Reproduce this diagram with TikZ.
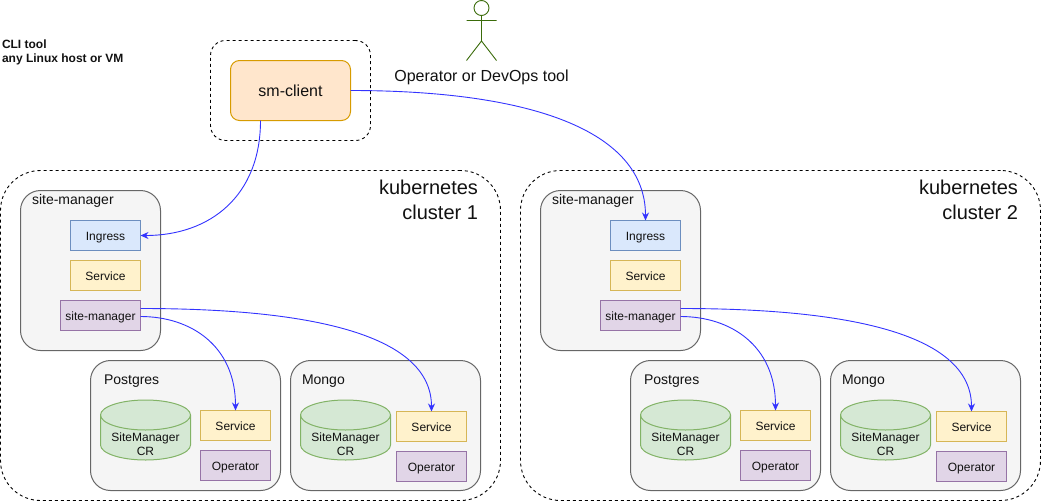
\documentclass[tikz,border=0pt]{standalone}
\usepackage{fontspec}
\setmainfont{Liberation Sans}
\usetikzlibrary{arrows.meta,calc}
\definecolor{bluef}{HTML}{DAE8FC}\definecolor{blued}{HTML}{6C8EBF}
\definecolor{yelf}{HTML}{FFF2CC}\definecolor{yeld}{HTML}{D6B656}
\definecolor{purf}{HTML}{E1D5E7}\definecolor{purd}{HTML}{9673A6}
\definecolor{grnf}{HTML}{D5E8D4}\definecolor{grnd}{HTML}{82B366}
\definecolor{orgf}{HTML}{FFE6CC}\definecolor{orgd}{HTML}{D79B00}
\definecolor{grayf}{HTML}{F5F5F5}\definecolor{grayd}{HTML}{666666}
\definecolor{actor}{HTML}{3A6B0A}\definecolor{conn}{HTML}{3333FF}
\definecolor{txt}{HTML}{111111}
\tikzset{
  every node/.style={text=txt,font=\fontsize{12}{14}\selectfont,inner sep=0pt,outer sep=0pt},
  box/.style={draw,line width=1pt,minimum height=30pt,anchor=north west,align=center,text height=10.5pt,text depth=0pt},
  wbox/.style={box,minimum width=70pt},
  ingressbox/.style={wbox,fill=bluef,draw=blued},
  servicebox/.style={wbox,fill=yelf,draw=yeld},
  opbox/.style={wbox,fill=purf,draw=purd},
  smbox/.style={box,minimum width=80pt,fill=purf,draw=purd},
  cluster/.style={draw=black,line width=0.9pt,dash pattern=on 3pt off 3pt,rounded corners=40pt,minimum width=500pt,minimum height=330pt,anchor=north west},
  group/.style={draw=grayd,fill=grayf,line width=1pt,anchor=north west,rounded corners=20pt},
  lbl/.style={font=\fontsize{14}{16}\selectfont,anchor=west},
  kube/.style={font=\fontsize{20}{25}\selectfont,align=right,anchor=north east},
  cyl/.style={draw=grnd,fill=grnf,line width=1pt},
  crtext/.style={font=\fontsize{12}{14}\selectfont,align=center},
  link/.style={draw=conn,line width=0.9pt,-{Stealth[length=8pt,width=7pt]}},
}
\newcommand{\crcyl}[2]{%
  \draw[cyl] (#1,415) arc[start angle=180,end angle=360,x radius=45,y radius=15] -- (#1+90,445)
    arc[start angle=0,end angle=180,x radius=45,y radius=15] -- cycle;
  \draw[cyl,fill=none] (#1,415) arc[start angle=180,end angle=0,x radius=45,y radius=15];
  \node[crtext] (#2) at (#1+45,444) {SiteManager\\CR};
}
\begin{document}
\begin{tikzpicture}[x=1pt,y=-1pt]
\useasboundingbox (0,0) rectangle (1041,501);
% top
\node[draw=black,dash pattern=on 3pt off 3pt,line width=0.9pt,rounded corners=15pt,minimum width=160pt,minimum height=100pt,anchor=north west] (clientouter) at (210.5,40.5) {};
\node[draw=orgd,fill=orgf,line width=1pt,rounded corners=9pt,minimum width=120pt,minimum height=60pt,anchor=north west,font=\fontsize{16}{18}\selectfont] (client) at (230.5,60.5) {sm-client};
\node[font=\bfseries\fontsize{12}{14.5}\selectfont,anchor=north west,align=left] (cli) at (2,39.5) {CLI tool\\any Linux host or VM};
% actor
\node[draw=actor,circle,line width=0.9pt,minimum size=15pt] (head) at (481.5,8) {};
\coordinate (neck) at (481.5,41);
\coordinate (armL) at (466.5,20.5);
\coordinate (armR) at (496.5,20.5);
\coordinate (legL) at (466.5,60.5);
\coordinate (legR) at (496.5,60.5);
\draw[actor,line width=0.9pt] (head.south) -- (neck) (armL) -- (armR) (legL) -- (neck) -- (legR);
\node[font=\fontsize{16}{18}\selectfont] (actorlabel) at (481.5,77) {Operator or DevOps tool};
% cluster 1
\node[cluster] (c1) at (0.5,170.5) {};
\node[kube] (k1) at (478,180.5) {kubernetes\\cluster 1};
\node[group,minimum width=140pt,minimum height=160pt] (sg1) at (20.5,190.5) {};
\node[lbl] (sl1) at (32,201) {site-manager};
\node[ingressbox] (ing1) at (70.5,220.5) {Ingress};
\node[servicebox] (svc1) at (70.5,260.5) {Service};
\node[smbox] (sm1) at (60.5,300.5) {site-manager};
\node[group,minimum width=190pt,minimum height=130pt] (pg1) at (90.5,360.5) {};
\node[lbl] (pl1) at (104,381) {Postgres};
\crcyl{100.5}{pcr1}
\node[servicebox] (psvc1) at (200.5,410.5) {Service};
\node[opbox] (pop1) at (200.5,450.5) {Operator};
\node[group,minimum width=190pt,minimum height=130pt] (mg1) at (290.5,360.5) {};
\node[lbl] (ml1) at (302,381) {Mongo};
\crcyl{300.5}{mcr1}
\node[servicebox] (msvc1) at (396.5,411.5) {Service};
\node[opbox] (mop1) at (396.5,451.5) {Operator};
% cluster 2
\node[cluster,minimum width=520pt] (c2) at (520.5,170.5) {};
\node[kube] (k2) at (1018,180.5) {kubernetes\\cluster 2};
\node[group,minimum width=160pt,minimum height=160pt] (sg2) at (540.5,190.5) {};
\node[lbl] (sl2) at (552,201) {site-manager};
\node[ingressbox] (ing2) at (610.5,220.5) {Ingress};
\node[servicebox] (svc2) at (610.5,260.5) {Service};
\node[smbox] (sm2) at (600.5,300.5) {site-manager};
\node[group,minimum width=190pt,minimum height=130pt] (pg2) at (630.5,360.5) {};
\node[lbl] (pl2) at (644,381) {Postgres};
\crcyl{640.5}{pcr2}
\node[servicebox] (psvc2) at (740.5,410.5) {Service};
\node[opbox] (pop2) at (740.5,450.5) {Operator};
\node[group,minimum width=190pt,minimum height=130pt] (mg2) at (830.5,360.5) {};
\node[lbl] (ml2) at (842,381) {Mongo};
\crcyl{840.5}{mcr2}
\node[servicebox] (msvc2) at (936.5,411.5) {Service};
\node[opbox] (mop2) at (936.5,451.5) {Operator};
% connectors
\coordinate (cb) at ($(client.south west)+(30,0)$);
\coordinate (ce) at ($(client.north east)+(0,30)$);
\coordinate (t1a) at ($(sm1.north east)+(0,8)$);
\coordinate (t1b) at ($(sm1.north east)+(0,16)$);
\coordinate (t2a) at ($(sm2.north east)+(0,8)$);
\coordinate (t2b) at ($(sm2.north east)+(0,16)$);
\draw[link] (cb) .. controls ($(cb)+(0,75)$) and ($(ing1.east)+(70,0)$) .. (ing1.east);
\draw[link] (ce) .. controls ($(ce)+(180,0)$) and ($(ing2.north)+(0,-90)$) .. (ing2.north);
\draw[link] (t1b) .. controls ($(t1b)+(50,0)$) and ($(psvc1.north)+(0,-65)$) .. (psvc1.north);
\draw[link] (t1a) .. controls ($(t1a)+(160,0)$) and ($(msvc1.north)+(0,-80)$) .. (msvc1.north);
\draw[link] (t2b) .. controls ($(t2b)+(50,0)$) and ($(psvc2.north)+(0,-65)$) .. (psvc2.north);
\draw[link] (t2a) .. controls ($(t2a)+(160,0)$) and ($(msvc2.north)+(0,-80)$) .. (msvc2.north);
\end{tikzpicture}
\end{document}
